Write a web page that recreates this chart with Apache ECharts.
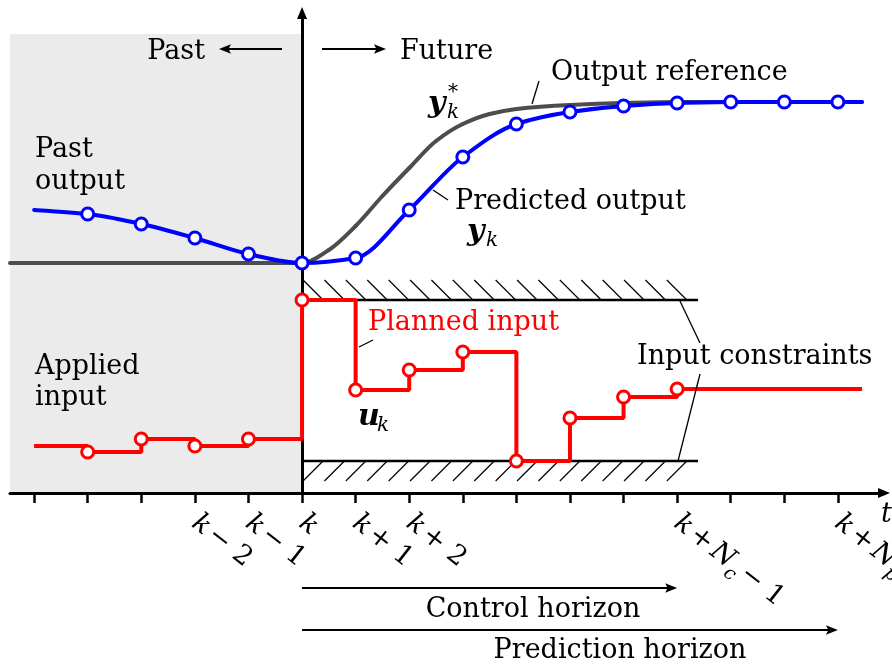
<!DOCTYPE html>
<html><head><meta charset="utf-8">
<script src="https://cdn.jsdelivr.net/npm/echarts@6/dist/echarts.min.js"></script>
<style>html,body{margin:0;padding:0;background:#fff}#c{width:892px;height:669px}</style>
</head><body><div id="c"></div>
<script>
// ---- data (time in sampling steps relative to k; values in arbitrary output units) ----
const X_MIN = -5.45, X_MAX = 10.86;
const Y_MIN = 0, Y_MAX = 480;
const tickSteps = [-5, -4, -3, -2, -1, 0, 1, 2, 3, 4, 5, 6, 7, 8, 9, 10];
const labeledSteps = [-2, -1, 0, 1, 2, 7, 10];
const tickLabels = [
  '{i|k} {r|− 2}', '{i|k} {r|− 1}', '{i|k}', '{i|k} {r|+ 1}', '{i|k} {r|+ 2}',
  '{i|k} {r|+} {i|N}{s|c} {r|− 1}', '{i|k} {r|+} {i|N}{s|p}'
];
// shaded "past" region
const pastRegion = [X_MIN, 0, 459];
// output reference y*_k
const refX = [X_MIN, -1, 0, 0.5, 1, 1.5, 2, 2.5, 3, 3.5, 4, 5, 6, 7, 10.45];
const refY = [230, 230, 230, 243, 267, 297, 325, 352, 369, 379, 384, 388, 390, 391, 391];
// past + predicted output y_k
const outX = [-5, -4, -3, -2, -1, 0, 1, 2, 3, 4, 5, 6, 7, 8, 9, 10, 10.45];
const outY = [283, 279, 269, 255, 239, 230, 235, 283, 336, 369, 381, 387, 390, 391, 391, 391, 391];
const outMarked = [0, 1, 1, 1, 1, 1, 1, 1, 1, 1, 1, 1, 1, 1, 1, 1, 0];
// applied + planned input u_k (held until next step)
const inX = [-5, -4, -3, -2, -1, 0, 1, 2, 3, 4, 5, 6, 7, 10.45];
const inY = [47, 41, 54, 47, 54, 193, 103, 123, 141, 32, 75, 96, 104, 104];
const inMarked = [0, 1, 1, 1, 1, 1, 1, 1, 1, 1, 1, 1, 1, 0];
// input constraints
const uMax = 193, uMin = 32, constraintEnd = 7.39;
// horizons
const controlHorizon = 7, predictionHorizon = 10;

const SERIF = '"DejaVu Serif", serif';
const BLUE = '#0000ff', RED = '#ff0000', GRAY = '#4d4d4d';

function pts(xs, ys, marked) {
  return xs.map((x, i) => marked && marked[i]
    ? { value: [x, ys[i]] }
    : { value: [x, ys[i]], symbol: 'none' });
}
function markedPts(xs, ys, marked) {
  return xs.map((x, i) => [x, ys[i]]).filter((p, i) => marked[i]);
}

// monotone (PCHIP) cubic through pixel points, as bezier segments
function monotoneSegments(p) {
  const n = p.length, h = [], d = [], m = [];
  for (let i = 0; i < n - 1; i++) { h[i] = p[i + 1][0] - p[i][0]; d[i] = (p[i + 1][1] - p[i][1]) / h[i]; }
  m[0] = d[0]; m[n - 1] = d[n - 2];
  for (let i = 1; i < n - 1; i++) {
    if (d[i - 1] * d[i] <= 0) m[i] = 0;
    else { const w1 = 2 * h[i] + h[i - 1], w2 = h[i] + 2 * h[i - 1]; m[i] = (w1 + w2) / (w1 / d[i - 1] + w2 / d[i]); }
  }
  const segs = [];
  for (let i = 0; i < n - 1; i++) {
    const t = h[i] / 3;
    segs.push({ x1: p[i][0], y1: p[i][1], cpx1: p[i][0] + t, cpy1: p[i][1] + m[i] * t,
      cpx2: p[i + 1][0] - t, cpy2: p[i + 1][1] - m[i + 1] * t, x2: p[i + 1][0], y2: p[i + 1][1] });
  }
  return segs;
}
function curveRenderer(xs, ys, color, width) {
  return function (params, api) {
    if (params.dataIndex !== 0) return;
    const p = xs.map((x, i) => api.coord([x, ys[i]]));
    return { type: 'group', children: monotoneSegments(p).map(s => ({
      type: 'bezierCurve', shape: s,
      style: { fill: null, stroke: color, lineWidth: width, lineCap: 'round' } })) };
  };
}

function renderShade(params, api) {
  const p0 = api.coord([api.value(0), api.value(2)]);
  const p1 = api.coord([api.value(1), 0]);
  return { type: 'rect', shape: { x: p0[0], y: p0[1], width: p1[0] - p0[0], height: p1[1] - p0[1] },
    style: { fill: '#ebebeb' } };
}
function renderBand(params, api) {
  const p0 = api.coord([api.value(0), api.value(2)]);
  const p1 = api.coord([api.value(1), api.value(2)]);
  const dir = api.value(3);
  const ch = [{ type: 'line', shape: { x1: p0[0], y1: p0[1], x2: p1[0], y2: p1[1] },
    style: { stroke: '#000', lineWidth: 2.4 } }];
  const step = 21.4, h = 20;
  for (let x = p0[0] + 1; x + h <= p1[0] - 10; x += step) {
    ch.push({ type: 'line', shape: dir > 0
      ? { x1: x, y1: p0[1] - h, x2: x + h, y2: p0[1] }
      : { x1: x, y1: p0[1] + h, x2: x + h, y2: p0[1] },
      style: { stroke: '#000', lineWidth: 1.2 } });
  }
  return { type: 'group', children: ch };
}

const chart = echarts.init(document.getElementById('c'));
chart.setOption({
  animation: false,
  grid: { left: 10, right: 8, top: 13, bottom: 176, containLabel: false, outerBoundsMode: 'none' },
  xAxis: {
    type: 'value', min: X_MIN, max: X_MAX, z: 1,
    axisLine: { lineStyle: { color: '#000', width: 3 }, symbol: ['none', 'triangle'], symbolSize: [10, 12] },
    axisTick: { show: true, customValues: tickSteps, length: 10, lineStyle: { color: '#000', width: 2.5 } },
    axisLabel: {
      customValues: labeledSteps, rotate: -38, margin: 27, hideOverlap: false,
      formatter: v => tickLabels[labeledSteps.indexOf(v)],
      rich: {
        i: { fontFamily: SERIF, fontStyle: 'italic', fontSize: 27, color: '#000', lineHeight: 40 },
        r: { fontFamily: SERIF, fontSize: 27, color: '#000', lineHeight: 40 },
        s: { fontFamily: SERIF, fontStyle: 'italic', fontSize: 19, color: '#000', lineHeight: 40, verticalAlign: 'bottom' }
      }
    },
    splitLine: { show: false }
  },
  yAxis: {
    type: 'value', min: Y_MIN, max: Y_MAX, z: 1,
    axisLine: { onZero: true, lineStyle: { color: '#000', width: 3 }, symbol: ['none', 'triangle'], symbolSize: [10, 12] },
    axisTick: { show: false }, axisLabel: { show: false }, splitLine: { show: false }
  },
  series: [
    { type: 'custom', z: 0, silent: true, renderItem: renderShade, data: [pastRegion] },
    { type: 'custom', z: 2, silent: true, renderItem: renderBand,
      data: [[0, constraintEnd, uMax, 1], [0, constraintEnd, uMin, -1]] },
    { type: 'custom', z: 3, silent: true, name: 'Output reference',
      renderItem: curveRenderer(refX, refY, GRAY, 4), data: [[refX[0], refY[0]]] },
    { type: 'custom', z: 4, silent: true, name: 'Output',
      renderItem: curveRenderer(outX, outY, BLUE, 4), data: [[outX[0], outY[0]]] },
    { type: 'scatter', z: 5, name: 'Output samples', data: markedPts(outX, outY, outMarked),
      symbol: 'circle', symbolSize: 12,
      itemStyle: { color: '#fff', borderColor: BLUE, borderWidth: 3, opacity: 1 } },
    { type: 'line', z: 4, name: 'Input', step: 'end', data: pts(inX, inY, inMarked),
      symbol: 'circle', symbolSize: 12,
      lineStyle: { color: RED, width: 4 },
      itemStyle: { color: '#fff', borderColor: RED, borderWidth: 3 } }
  ]
});

// ---- annotations ----
function T(text, x, base, o = {}) {
  const size = o.size || 27;
  return { type: 'text', x, y: base - 0.36 * size, z: 100,
    style: { text, fontFamily: SERIF, fontSize: size, fontStyle: o.style || 'normal',
      fontWeight: o.weight || 'normal',
      fill: o.color || '#000', align: o.align || 'left', verticalAlign: 'middle' } };
}
function L(x1, y1, x2, y2, w = 1.3) {
  return { type: 'line', z: 100, shape: { x1, y1, x2, y2 }, style: { stroke: '#000', lineWidth: w } };
}
function A(x1, y1, x2, y2) {
  const dx = x2 - x1, dy = y2 - y1, len = Math.hypot(dx, dy), ux = dx / len, uy = dy / len;
  const hl = 12, hw = 4.8;
  const bx = x2 - ux * hl, by = y2 - uy * hl;
  return [L(x1, y1, x2 - ux * 6, y2 - uy * 6, 2),
    { type: 'polygon', z: 100, shape: { points: [[x2, y2], [bx - uy * hw, by + ux * hw], [bx + ux * 2.5, by + uy * 2.5], [bx + uy * hw, by - ux * hw]] },
      style: { fill: '#000' } }];
}
function math(main, x, base, sub, sup) {
  const g = [T(main, x, base, { style: 'italic', weight: 'bold', size: 30 })];
  if (sub) g.push(T(sub, x + 19, base + 5, { style: 'italic', size: 20 }));
  if (sup) g.push(T(sup, x + 20, base - 15, { size: 20 }));
  return g;
}
const px = v => chart.convertToPixel({ xAxisIndex: 0 }, v);
const k0 = px(0), kc = px(controlHorizon), kp = px(predictionHorizon);

chart.setOption({
  graphic: [].concat(
    T('Past', 205, 62, { align: 'right' }),
    A(282, 49, 219, 49),
    A(322, 49, 386, 49),
    T('Future', 400, 62),
    T('Output reference', 551, 83),
    L(532, 104, 539, 81),
    math('y', 428, 115, 'k', '*'),
    T('Past', 35, 160), T('output', 35, 192),
    T('Predicted output', 455, 212),
    L(433, 190, 448, 200),
    math('y', 467, 243, 'k'),
    T('Applied', 35, 377), T('input', 35, 408),
    T('Planned input', 368, 333, { color: RED }),
    L(359, 347, 373, 340),
    math('u', 358, 428, 'k'),
    T('Input constraints', 637, 367),
    L(679, 299, 700, 343), L(700, 374, 678, 461),
    T('t', 881, 525, { style: 'italic' }),
    A(k0, 588, kc, 588),
    T('Control horizon', 533, 620, { align: 'center' }),
    A(k0, 630, kp, 630),
    T('Prediction horizon', 620, 661, { align: 'center' })
  )
});
</script></body></html>
